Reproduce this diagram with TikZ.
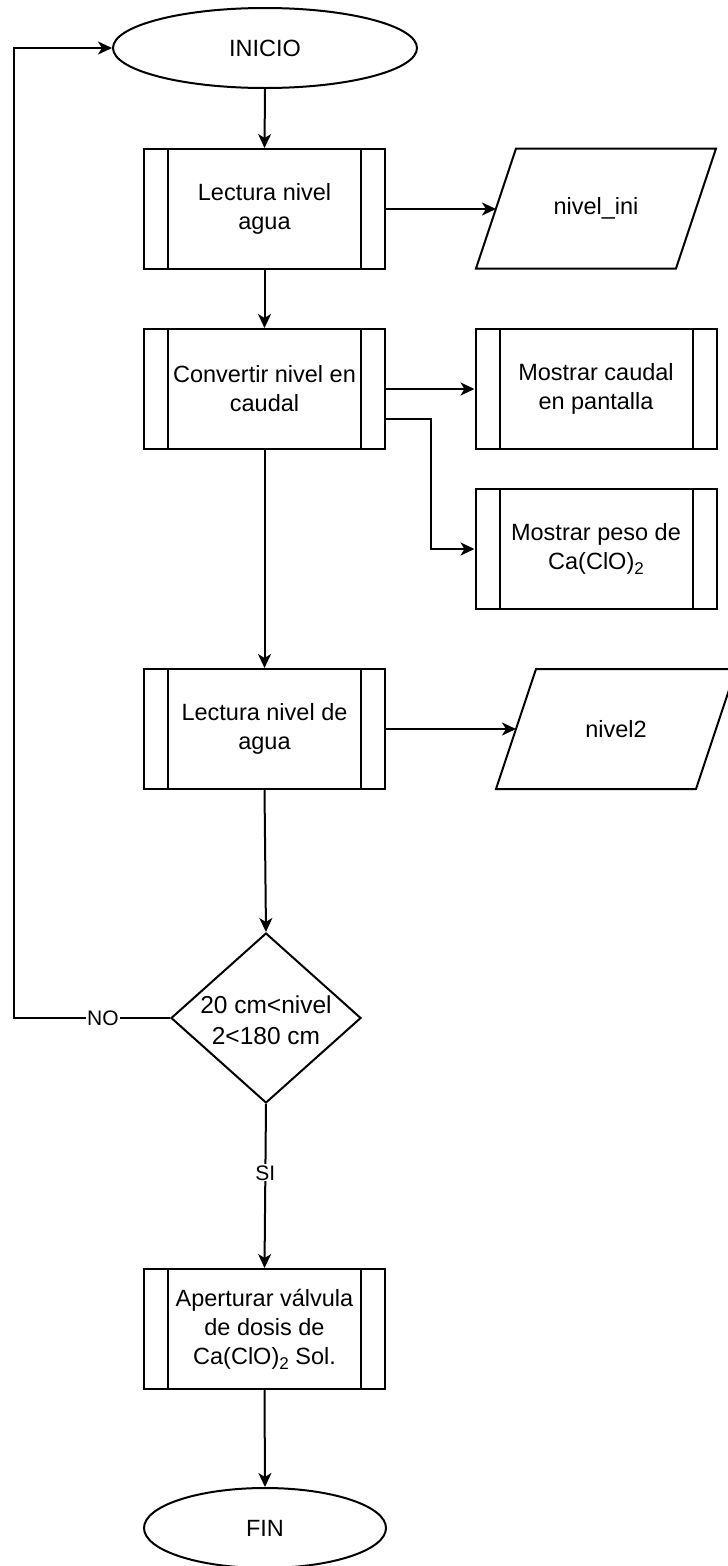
\documentclass[tikz,border=0pt]{standalone}
\usepackage{fontspec}
\setmainfont{Liberation Sans}
\usetikzlibrary{shapes.geometric,arrows.meta}
\newcommand{\subtwo}{\raisebox{-5pt}{\fontsize{17}{17}\selectfont 2}}
\begin{document}
\begin{tikzpicture}[x=1pt,y=-1pt,line width=2pt,
  font=\fontsize{23.5}{29}\selectfont,
  >={Stealth[length=14pt,width=13pt,inset=4pt]},
  every node/.style={text=black},
  termin/.style={draw=black,ellipse,minimum height=80pt,inner sep=0pt},
  subproc/.style={draw=black,rectangle,minimum width=241pt,minimum height=120pt,
    inner sep=0pt,align=center,
    path picture={
      \draw[black,line width=2pt] ([xshift=24pt]path picture bounding box.north west) -- ([xshift=24pt]path picture bounding box.south west);
      \draw[black,line width=2pt] ([xshift=-24pt]path picture bounding box.north east) -- ([xshift=-24pt]path picture bounding box.south east);
    }},
  iobox/.style={rectangle,minimum width=240pt,minimum height=120pt,inner sep=0pt,outer sep=0pt},
  decis/.style={draw=black,diamond,minimum width=190pt,minimum height=170pt,inner sep=0pt},
  txt/.style={align=center,inner sep=0pt,font=\fontsize{24.5}{31}\selectfont},
  lbl/.style={fill=white,inner sep=1pt,font=\fontsize{21}{25}\selectfont},
  conn/.style={draw=black,->},
  para/.style={draw=black,line join=miter}
]
\useasboundingbox (0,0) rectangle (728,1566);
\clip (0,0) rectangle (728,1566);
\fill[white] (0,0) rectangle (728,1566);

\node[termin,minimum width=304pt] (ini) at (265,48) {INICIO};
\node[subproc] (lec1) at (264.5,209) {Lectura nivel\\agua};
\node[iobox] (nini) at (596,208.5) {nivel\_ini};
\node[subproc] (conv) at (264.5,389) {Convertir nivel en\\caudal};
\node[subproc] (mcau) at (596,389) {Mostrar caudal\\en pantalla};
\node[subproc] (mpeso) at (596,549) {Mostrar peso de\\Ca(ClO)\subtwo};
\node[subproc] (lec2) at (264.5,729) {Lectura nivel de\\agua};
\node[iobox] (niv2) at (616,729) {nivel2};
\node[decis] (dec) at (266,1018) {};
\node[txt] (dect) at (266,1020) {20 cm<nivel\\2<180 cm};
\node[subproc] (aper) at (264.5,1329) {Aperturar válvula\\de dosis de\\Ca(ClO)\subtwo{} Sol.};
\node[termin,minimum width=242pt] (fin) at (265,1528) {FIN};

\draw[para] (nini.south west) -- ([xshift=40pt]nini.north west) -- (nini.north east) -- ([xshift=-40pt]nini.south east) -- cycle;
\draw[para] (niv2.south west) -- ([xshift=40pt]niv2.north west) -- (niv2.north east) -- ([xshift=-40pt]niv2.south east) -- cycle;

\coordinate (ninil) at ([xshift=20pt]nini.west);
\coordinate (niv2l) at ([xshift=20pt]niv2.west);
\coordinate (lb) at (14,1018);
\coordinate (lt) at (14,48);

\draw[conn] (ini.south) -- (lec1.north);
\draw[conn] (lec1.east) -- (lec1.east -| ninil);
\draw[conn] (lec1.south) -- (conv.north);
\draw[conn] (conv.east) -- (mcau.west);
\draw[conn] ([yshift=-30pt]conv.east) -- ++(45,0) |- (mpeso.west);
\draw[conn] (conv.south) -- (lec2.north);
\draw[conn] (lec2.east) -- (lec2.east -| niv2l);
\draw[conn] (lec2.south) -- (dec.north);
\draw[conn] (dec.west) -- node[lbl,pos=0.43] (no) {NO} (lb) -- (lt) -- (ini.west);
\draw[conn] (dec.south) -- node[lbl,pos=0.42] (si) {SI} (aper.north);
\draw[conn] (aper.south) -- (fin.north);
\end{tikzpicture}
\end{document}
